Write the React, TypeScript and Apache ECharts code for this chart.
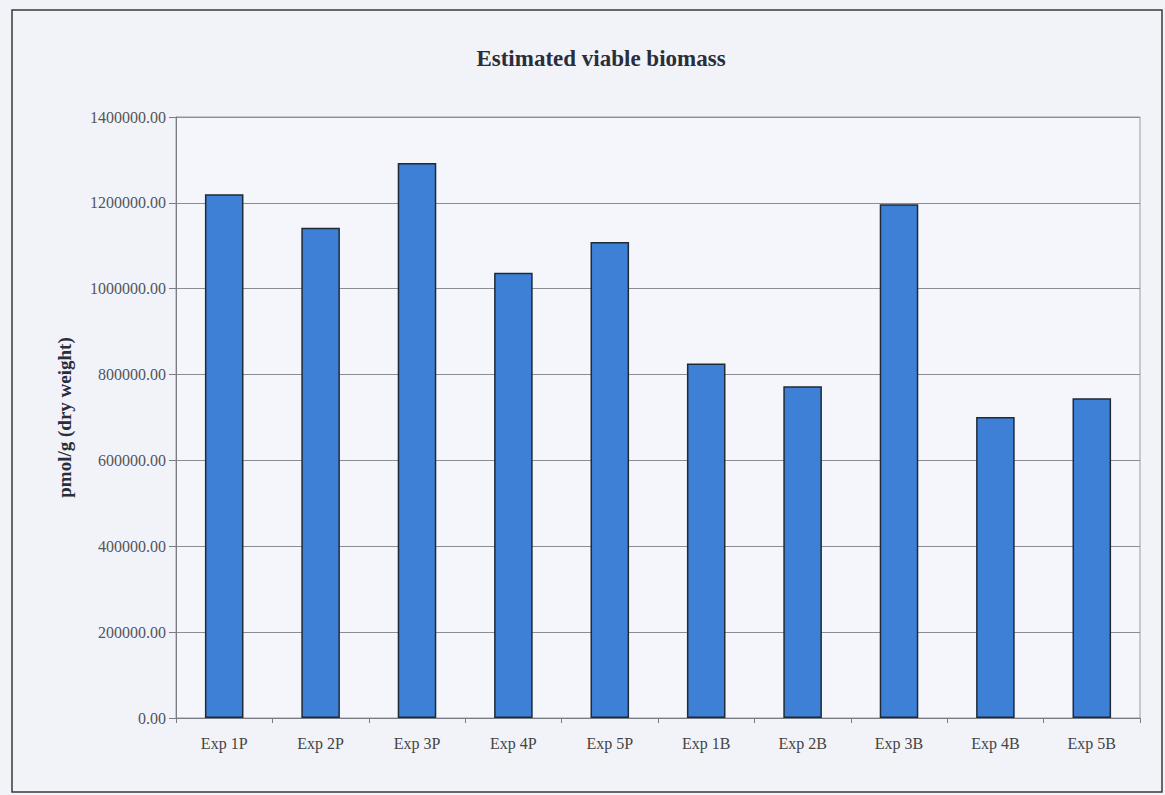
import React, { useEffect, useRef } from "react";
import * as echarts from "echarts";

const categories = ["Exp 1P", "Exp 2P", "Exp 3P", "Exp 4P", "Exp 5P", "Exp 1B", "Exp 2B", "Exp 3B", "Exp 4B", "Exp 5B"];
const biomass = [1220000, 1142000, 1293000, 1037000, 1109000, 826000, 773000, 1197000, 701000, 745000];
const titleText = "Estimated viable biomass";
const yAxisName = "pmol/g (dry weight)";

export default function App() {
  const ref = useRef<HTMLDivElement>(null);
  useEffect(() => {
    const chart = echarts.init(ref.current!, undefined, { renderer: "svg" });
    const serif = "'Liberation Serif', 'DejaVu Serif', serif";
    chart.setOption({
      animation: false,
      backgroundColor: "#f1f3f9",
      title: {
        text: titleText,
        left: 596,
        top: 42,
        textAlign: "center",
        textStyle: { fontFamily: serif, fontSize: 23, fontWeight: "bold", color: "#2a2d3a" },
      },
      graphic: [
        {
          type: "rect",
          shape: { x: 12, y: 10, width: 1150, height: 782 },
          style: { fill: "none", stroke: "#3a3a3a", lineWidth: 1.5 },
          silent: true,
        },
      ],
      grid: { left: 176, top: 117, width: 964, height: 601, show: true, borderColor: "#9a9ca4", borderWidth: 1, backgroundColor: "#f4f6fb" },
      xAxis: {
        type: "category",
        data: categories,
        axisLine: { lineStyle: { color: "#7a7c84", width: 1 } },
        axisTick: { show: true, alignWithLabel: false, length: 5, lineStyle: { color: "#7a7c84" } },
        axisLabel: { fontFamily: serif, fontSize: 16, color: "#444", margin: 17 },
      },
      yAxis: {
        type: "value",
        min: 0,
        max: 1400000,
        interval: 200000,
        name: yAxisName,
        nameLocation: "middle",
        nameGap: 102,
        nameTextStyle: { fontFamily: serif, fontSize: 19, fontWeight: "bold", color: "#2a2d3a" },
        axisLine: { show: true, lineStyle: { color: "#7a7c84", width: 1 } },
        axisTick: { show: true, length: 7, lineStyle: { color: "#7a7c84" } },
        axisLabel: { fontFamily: serif, fontSize: 16, color: "#555", margin: 10, formatter: (v: number) => v.toFixed(2) },
        splitLine: { lineStyle: { color: "#8a8d94", width: 1 } },
      },
      series: [
        {
          type: "bar",
          data: biomass,
          barWidth: "40%",
          itemStyle: { color: "#3d80d6", borderColor: "#1e2a36", borderWidth: 1.5 },
        },
      ],
    });
    return () => chart.dispose();
  }, []);
  return <div ref={ref} style={{ width: 1165, height: 795, position: "absolute", left: 0, top: 0 }} />;
}
